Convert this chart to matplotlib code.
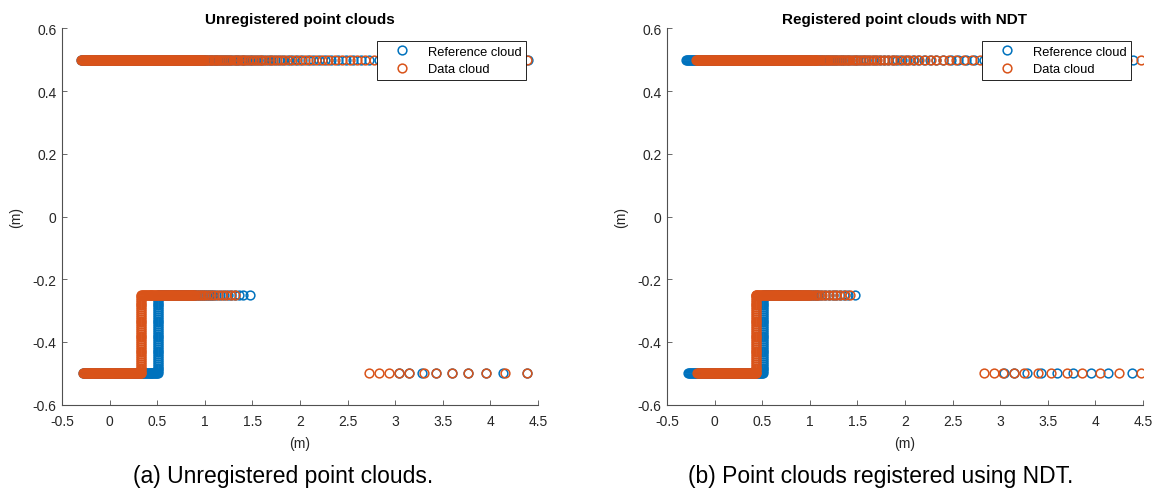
import numpy as np
import matplotlib
matplotlib.use('Agg')
import matplotlib.pyplot as plt
from matplotlib.ticker import FuncFormatter, MultipleLocator
from matplotlib.lines import Line2D

plt.rcParams['font.family'] = ['Liberation Sans', 'DejaVu Sans']
plt.rcParams['axes.unicode_minus'] = False

# ------------------------------------------------------------
# Scan data (metres). Walls at y = +0.5, y = -0.5 and a step at y = -0.25
# ------------------------------------------------------------
y_top = 0.5
y_bot = -0.5
y_step = -0.25

# densely sampled stretches close to the sensor (seen by both scans)
top_dense_x = [-0.30, -0.29, -0.28, -0.27, -0.26, -0.25, -0.24, -0.23, -0.22, -0.21,
               -0.20, -0.19, -0.18, -0.17, -0.16, -0.15, -0.14, -0.13, -0.12, -0.11,
               -0.10, -0.09, -0.08, -0.07, -0.06, -0.05, -0.04, -0.03, -0.02, -0.01,
               0.00, 0.01, 0.02, 0.03, 0.04, 0.05, 0.06, 0.07, 0.08, 0.09,
               0.10, 0.11, 0.12, 0.13, 0.14, 0.15, 0.16, 0.17, 0.18, 0.19,
               0.20, 0.21, 0.22, 0.23, 0.24, 0.25, 0.26, 0.27, 0.28, 0.29,
               0.30, 0.31, 0.32, 0.33, 0.34, 0.35, 0.36, 0.37, 0.38, 0.39,
               0.40, 0.41, 0.42, 0.43, 0.44, 0.45, 0.46, 0.47, 0.48, 0.49,
               0.50, 0.51, 0.52, 0.53, 0.54, 0.55, 0.56, 0.57, 0.58, 0.59,
               0.60, 0.61, 0.62, 0.63, 0.64, 0.65, 0.66, 0.67, 0.68, 0.69,
               0.70, 0.71, 0.72, 0.73, 0.74, 0.75, 0.76, 0.77, 0.78, 0.79,
               0.80, 0.81, 0.82, 0.83, 0.84, 0.85, 0.86, 0.87, 0.88, 0.89,
               0.90, 0.91, 0.92, 0.93, 0.94, 0.95, 0.96, 0.97, 0.98, 0.99]
bot_dense_x = [-0.28, -0.27, -0.26, -0.25, -0.24, -0.23, -0.22, -0.21,
               -0.20, -0.19, -0.18, -0.17, -0.16, -0.15, -0.14, -0.13, -0.12, -0.11,
               -0.10, -0.09, -0.08, -0.07, -0.06, -0.05, -0.04, -0.03, -0.02, -0.01,
               0.00, 0.01, 0.02, 0.03, 0.04, 0.05, 0.06, 0.07, 0.08, 0.09,
               0.10, 0.11, 0.12, 0.13, 0.14, 0.15, 0.16, 0.17, 0.18, 0.19,
               0.20, 0.21, 0.22, 0.23, 0.24, 0.25, 0.26, 0.27, 0.28, 0.29,
               0.30, 0.31, 0.32, 0.33, 0.34, 0.35, 0.36, 0.37, 0.38, 0.39,
               0.40, 0.41, 0.42, 0.43, 0.44, 0.45, 0.46, 0.47, 0.48, 0.49,
               0.50]
wall_y = [-0.500, -0.494, -0.488, -0.482, -0.476, -0.470, -0.464, -0.458, -0.452, -0.446,
          -0.440, -0.434, -0.428, -0.422, -0.416, -0.410, -0.404, -0.398, -0.392, -0.386,
          -0.380, -0.374, -0.368, -0.362, -0.356, -0.350, -0.344, -0.338, -0.332, -0.326,
          -0.320, -0.314, -0.308, -0.302, -0.296, -0.290, -0.284, -0.278, -0.272, -0.266,
          -0.260, -0.254]
step_dense_x = [0.33, 0.34, 0.35, 0.36, 0.37, 0.38, 0.39,
                0.40, 0.41, 0.42, 0.43, 0.44, 0.45, 0.46, 0.47, 0.48, 0.49,
                0.50, 0.51, 0.52, 0.53, 0.54, 0.55, 0.56, 0.57, 0.58, 0.59,
                0.60, 0.61, 0.62, 0.63, 0.64, 0.65, 0.66, 0.67, 0.68, 0.69,
                0.70, 0.71, 0.72, 0.73, 0.74, 0.75, 0.76, 0.77, 0.78, 0.79,
                0.80, 0.81, 0.82, 0.83, 0.84, 0.85, 0.86, 0.87, 0.88, 0.89,
                0.90, 0.92, 0.94, 0.96, 0.98]

# reference cloud: wall corner and the sparse far returns
ref_wall_x = 0.51
ref_top_tail = [1.000, 1.016, 1.033, 1.050, 1.067, 1.085, 1.103, 1.122, 1.141, 1.160,
                1.180, 1.200, 1.222, 1.244, 1.267, 1.290, 1.314, 1.338, 1.363, 1.388,
                1.414, 1.440, 1.470, 1.500, 1.530, 1.560, 1.590, 1.620, 1.660, 1.700,
                1.740, 1.780, 1.820, 1.870, 1.920, 1.970, 2.020, 2.080, 2.140, 2.200,
                2.260, 2.330, 2.400, 2.480, 2.560, 2.640, 2.730, 2.830, 2.930, 3.040,
                3.150, 3.285, 3.430, 3.600, 3.760, 3.950, 4.135, 4.400]
ref_step_tail = [1.00, 1.02, 1.04, 1.06, 1.09, 1.12, 1.16, 1.20, 1.24, 1.28,
                 1.32, 1.36, 1.40, 1.47]
ref_far_x = [3.04, 3.15, 3.285, 3.43, 3.60, 3.76, 3.95, 4.135, 4.38]

# data cloud (before registration)
data_wall_x = 0.335
data_top_tail = [1.008, 1.025, 1.042, 1.060, 1.077, 1.095, 1.113, 1.132, 1.151, 1.171,
                 1.191, 1.212, 1.233, 1.256, 1.279, 1.302, 1.326, 1.351, 1.376, 1.401,
                 1.427, 1.455, 1.485, 1.515, 1.545, 1.575, 1.605, 1.640, 1.680, 1.720,
                 1.760, 1.800, 1.845, 1.895, 1.945, 1.995, 2.050, 2.110, 2.170, 2.230,
                 2.295, 2.365, 2.440, 2.520, 2.600, 2.685, 2.780, 2.880, 2.980, 3.090,
                 3.220, 3.360, 3.510, 3.670, 3.850, 4.040, 4.230, 4.380]
data_step_tail = [1.00, 1.03, 1.06, 1.10, 1.14, 1.18, 1.22, 1.27, 1.32]
data_far_x = [2.73, 2.83, 2.93, 3.04, 3.15, 3.30, 3.43, 3.60, 3.76, 3.95, 4.15, 4.38]

# NDT result: translation applied to the data cloud
ndt_shift = (0.10, 0.0)


def build_cloud(wall_x, top_tail, step_tail, far_x):
    bot_x = [x for x in bot_dense_x if x <= wall_x]
    step_x = [x for x in step_dense_x if x >= wall_x - 0.005] + step_tail
    top_x = top_dense_x + top_tail
    xs = np.concatenate([top_x, bot_x, np.full(len(wall_y), wall_x), step_x, far_x])
    ys = np.concatenate([np.full(len(top_x), y_top), np.full(len(bot_x), y_bot),
                         wall_y, np.full(len(step_x), y_step), np.full(len(far_x), y_bot)])
    return xs, ys


ref_x, ref_y = build_cloud(ref_wall_x, ref_top_tail, ref_step_tail, ref_far_x)
data_x, data_y = build_cloud(data_wall_x, data_top_tail, data_step_tail, data_far_x)
reg_x, reg_y = data_x + ndt_shift[0], data_y + ndt_shift[1]

blue = '#0072BD'
orange = '#D95319'
axcol = '#262626'

W, H = 1158, 502
fig = plt.figure(figsize=(W / 100, H / 100), dpi=100)

panels = [
    (62, 'Unregistered point clouds', data_x, data_y, '(a) Unregistered point clouds.', 283),
    (667, 'Registered point clouds with NDT', reg_x, reg_y, '(b) Point clouds registered using NDT.', 881),
]

for left, title, dx, dy, caption, cap_x in panels:
    ax = fig.add_axes([left / W, 1 - 405.5 / H, 476 / W, 376 / H])
    kw = dict(linestyle='none', marker='o', markerfacecolor='none', markersize=6.3, markeredgewidth=1.1)
    ax.plot(ref_x, ref_y, color=blue, **kw)
    ax.plot(dx, dy, color=orange, **kw)

    ax.set_xlim(-0.5, 4.5)
    ax.set_ylim(-0.6, 0.6)
    ax.xaxis.set_major_locator(MultipleLocator(0.5))
    ax.yaxis.set_major_locator(MultipleLocator(0.2))
    fmt = FuncFormatter(lambda v, p: '%g' % round(v, 6))
    ax.xaxis.set_major_formatter(fmt)
    ax.yaxis.set_major_formatter(fmt)

    for s in ['top', 'right']:
        ax.spines[s].set_visible(False)
    for s in ['left', 'bottom']:
        ax.spines[s].set_color('#505050')
        ax.spines[s].set_linewidth(0.8)
    ax.tick_params(direction='in', length=3.5, width=0.6, color='#505050',
                   labelsize=10, labelcolor=axcol)
    ax.tick_params(axis='x', pad=7)
    ax.tick_params(axis='y', pad=4)

    ax.set_xlabel('(m)', fontsize=10, color=axcol)
    ax.set_ylabel('(m)', fontsize=10, color=axcol)
    ax.xaxis.set_label_coords(0.5, -0.083)
    ax.yaxis.set_label_coords(-0.082, 0.5)
    ax.set_title(title, fontsize=11, fontweight='bold', pad=4, color='black')

    handles = [Line2D([], [], color=blue, **kw), Line2D([], [], color=orange, **kw)]
    leg = ax.legend(handles, ['Reference cloud', 'Data cloud'], loc='upper right',
                    bbox_to_anchor=(0.975, 0.966), borderaxespad=0, fontsize=9.3,
                    fancybox=False, framealpha=1, edgecolor='black',
                    borderpad=0.35, handlelength=3.2, handletextpad=0.4, labelspacing=0.4)
    leg.get_frame().set_linewidth(0.6)

    fig.text(cap_x / W, 1 - 477 / H, caption, fontsize=16.5, ha='center', va='center')

plt.savefig('out.png', dpi=100)
